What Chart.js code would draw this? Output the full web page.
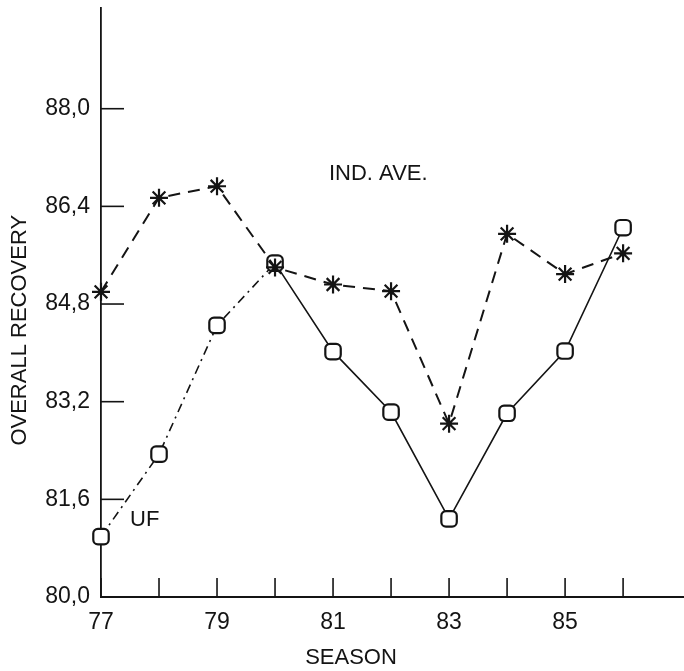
<!DOCTYPE html>
<html>
<head>
<meta charset="utf-8">
<script src="https://cdn.jsdelivr.net/npm/chart.js@4.4.1/dist/chart.umd.min.js"></script>
<style>
  html, body { margin: 0; padding: 0; background: #fff; }
  #wrap { width: 684px; height: 671px; }
</style>
</head>
<body>
<div id="wrap"><canvas id="recoveryChart" width="684" height="671"></canvas></div>
<script>
// seasons on the x axis
var seasons = [77, 78, 79, 80, 81, 82, 83, 84, 85, 86];
// industry average overall recovery (asterisks, dashed)
var indAve = [85.0, 86.54, 86.73, 85.40, 85.12, 85.01, 82.84, 85.95, 85.29, 85.63];
// UF overall recovery (open markers, solid)
var uf = [80.99, 82.34, 84.45, 85.47, 84.02, 83.03, 81.28, 83.01, 84.03, 86.05];
// tick labels
var xLabelled = [77, 79, 81, 83, 85];
var yTicks = [81.6, 83.2, 84.8, 86.4, 88.0];

var FONT = '"Liberation Sans", Arial, sans-serif';
var INK = '#141414';

function toPoints(values) {
    return seasons.map(function (s, i) { return { x: s, y: values[i] }; });
}

/**
 * Inward tick marks, axis titles and the in-plot series labels
 */
var decorations = {
    id: 'decorations',
    beforeDatasetsDraw: function (chart) {
        var ctx = chart.ctx;
        var xs = chart.scales.x, ys = chart.scales.y;
        ctx.save();
        ctx.strokeStyle = INK;
        ctx.lineWidth = 1.6;
        seasons.forEach(function (s) {
            var px = xs.getPixelForValue(s);
            ctx.beginPath();
            ctx.moveTo(px, ys.bottom);
            ctx.lineTo(px, ys.bottom - 19);
            ctx.stroke();
        });
        yTicks.forEach(function (v) {
            var py = ys.getPixelForValue(v);
            ctx.beginPath();
            ctx.moveTo(xs.left, py);
            ctx.lineTo(xs.left + 23, py);
            ctx.stroke();
        });
        ctx.restore();
    },
    afterDraw: function (chart) {
        var ctx = chart.ctx;
        var xs = chart.scales.x, ys = chart.scales.y;
        ctx.save();
        ctx.fillStyle = INK;
        ctx.font = '22px ' + FONT;

        // series labels
        ctx.textAlign = 'left';
        ctx.textBaseline = 'middle';
        ctx.fillText('IND. AVE.', xs.getPixelForValue(80.93), ys.getPixelForValue(86.93));
        ctx.fillText('UF', xs.getPixelForValue(77.5), ys.getPixelForValue(81.26));

        // x title
        ctx.textAlign = 'center';
        ctx.fillText('SEASON', xs.getPixelForValue(81.31), 658);

        // y title
        ctx.translate(20, ys.getPixelForValue(84.37));
        ctx.rotate(-Math.PI / 2);
        ctx.fillText('OVERALL RECOVERY', 0, 0);
        ctx.restore();
    }
};

function makeChart() {
    var ctx = document.getElementById('recoveryChart').getContext('2d');

    var chart = new Chart(ctx, {
        type: 'line',
        data: {
            datasets: [{
                label: 'IND. AVE.',
                data: toPoints(indAve),
                borderColor: INK,
                borderWidth: 2,
                borderDash: [12, 8],
                pointStyle: 'star',
                pointRadius: 9,
                pointBorderWidth: 2.2,
                pointBorderColor: INK,
                pointBackgroundColor: INK,
                fill: false,
                clip: false,
                tension: 0
            }, {
                label: 'UF',
                data: toPoints(uf),
                borderColor: INK,
                borderWidth: 1.6,
                segment: {
                    borderDash: function (c) { return c.p0DataIndex < 3 ? [9, 5, 2, 5] : undefined; }
                },
                pointStyle: 'rectRounded',
                pointRadius: 9,
                pointBorderWidth: 2.2,
                pointBorderColor: INK,
                pointBackgroundColor: '#fff',
                fill: false,
                clip: false,
                tension: 0
            }]
        },
        options: {
            responsive: false,
            animation: false,
            layout: { autoPadding: false, padding: { top: 8, right: 0, left: 0, bottom: 0 } },
            plugins: {
                legend: { display: false },
                tooltip: { enabled: false }
            },
            scales: {
                x: {
                    type: 'linear',
                    min: 77,
                    max: 87.05,
                    afterFit: function (scale) {
                        scale.height = 74;
                        scale.paddingLeft = 0;
                        scale.paddingRight = 0;
                    },
                    grid: { display: false, drawTicks: false },
                    border: { display: true, color: INK, width: 2 },
                    ticks: {
                        stepSize: 1,
                        autoSkip: false,
                        maxRotation: 0,
                        padding: 12,
                        color: INK,
                        font: { family: FONT, size: 23 },
                        callback: function (v) {
                            return xLabelled.indexOf(v) >= 0 ? String(v) : '';
                        }
                    }
                },
                y: {
                    min: 80,
                    max: 89.65,
                    afterFit: function (scale) {
                        scale.width = 101;
                        scale.paddingTop = 0;
                        scale.paddingBottom = 0;
                    },
                    grid: { display: false, drawTicks: false },
                    border: { display: true, color: INK, width: 1.8 },
                    ticks: {
                        stepSize: 1.6,
                        autoSkip: false,
                        padding: 11,
                        color: INK,
                        font: { family: FONT, size: 23 },
                        callback: function (v) {
                            if (v > 88.5) return '';
                            return v.toFixed(1).replace('.', ',');
                        }
                    }
                }
            }
        },
        plugins: [decorations]
    });
    return chart;
}

makeChart();
</script>
</body>
</html>
